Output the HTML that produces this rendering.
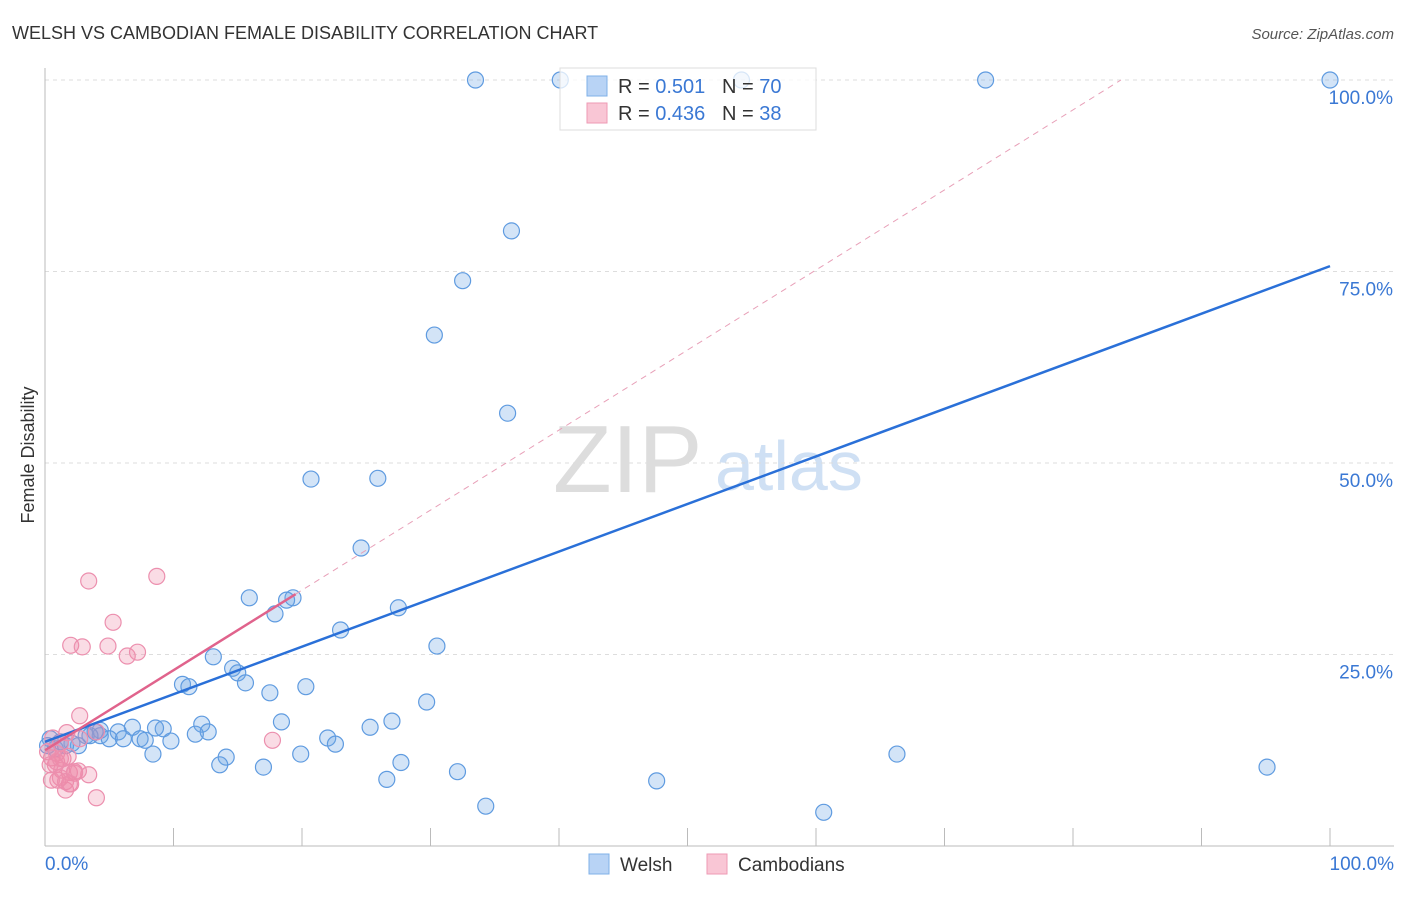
<!DOCTYPE html>
<html><head><meta charset="utf-8"><style>
body{margin:0;background:#fff;font-family:"Liberation Sans",sans-serif;}
svg text{font-family:"Liberation Sans",sans-serif;}
</style></head><body>
<svg id="c" width="1406" height="892">
<text x="12" y="39" font-size="18" fill="#333">WELSH VS CAMBODIAN FEMALE DISABILITY CORRELATION CHART</text>
<text x="1394" y="39" font-size="15" fill="#555" font-style="italic" text-anchor="end">Source: ZipAtlas.com</text>
<text x="34" y="455" font-size="18" fill="#333" transform="rotate(-90 34 455)" text-anchor="middle">Female Disability</text>
<text x="553" y="492" font-size="96" fill="#ddd" font-family="Liberation Serif">ZIP</text>
<text x="715" y="490" font-size="70" fill="#cfe0f4">atlas</text>
<g id="grid"></g><g id="axes"></g><g id="pts"></g><g id="lines"></g>
<g>
<rect x="560" y="68" width="256" height="62" fill="rgba(255,255,255,0.75)" stroke="#ddd"/>
<rect x="587" y="76" width="20" height="20" fill="#b8d3f5" stroke="#7fb0e8"/>
<rect x="587" y="103" width="20" height="20" fill="#f9c6d5" stroke="#ee9ab4"/>
<text x="618" y="93" font-size="20" fill="#333">R = <tspan fill="#3a78d4">0.501</tspan>&#160;&#160;&#160;N = <tspan fill="#3a78d4">70</tspan></text>
<text x="618" y="120" font-size="20" fill="#333">R = <tspan fill="#3a78d4">0.436</tspan>&#160;&#160;&#160;N = <tspan fill="#3a78d4"> 38</tspan></text>
</g>
<g>
<rect x="589" y="854" width="20" height="20" fill="#b8d3f5" stroke="#7fb0e8"/>
<text x="620" y="871" font-size="19" fill="#333">Welsh</text>
<rect x="707" y="854" width="20" height="20" fill="#f9c6d5" stroke="#ee9ab4"/>
<text x="738" y="871" font-size="19" fill="#333">Cambodians</text>
</g>
</svg>
<script>
const welshX=[33.5,40.1,54.2,73.2,100,36.3,32.5,30.3,36,20.7,25.9,24.6,15.9,19.3,18.8,17.9,27.5,23,30.5,13.1,14.6,15,15.6,10.7,11.2,17.5,20.3,29.7,18.4,12.2,12.7,9.2,8.6,6.8,5.7,3.9,4.3,3.2,5,6.1,7.4,7.8,9.8,11.7,22,22.6,25.3,27,8.4,14.1,13.6,19.9,66.3,17.0,27.7,26.6,32.1,47.6,34.3,60.6,95.1,2.6,2.1,1.2,0.4,0.2,0.8,1.6,4.3,3.5];
const welshY=[100,100,100,100,100,80.3,73.8,66.7,56.5,47.9,48.0,38.9,32.4,32.4,32.1,30.3,31.1,28.2,26.1,24.7,23.2,22.6,21.3,21.1,20.8,20.0,20.8,18.8,16.2,15.9,14.9,15.3,15.4,15.5,14.9,14.9,14.4,14.4,14.0,14.0,14.0,13.8,13.7,14.6,14.1,13.3,15.5,16.3,12.0,11.6,10.6,12.0,12.0,10.3,10.9,8.7,9.7,8.5,5.2,4.4,10.3,13.1,13.4,13.6,14.0,13.1,12.7,13.1,15.1,14.4];
const cambX=[3.4,8.7,5.3,2.0,2.9,4.9,6.4,7.2,2.7,1.7,4.0,0.2,0.5,0.8,1.3,1.9,2.3,1.0,1.6,1.9,4.0,17.7,2.7,0.6,1.2,0.9,1.4,0.4,0.9,1.2,1.8,2.6,3.4,2.3,1.2,1.6,2.0,0.5];
const cambY=[34.6,35.2,29.2,26.2,26.0,26.1,24.8,25.3,17.0,14.8,14.9,12.3,11.5,10.6,9.9,9.6,9.7,8.6,7.3,8.1,6.3,13.8,14.0,14.1,13.4,12.1,11.4,10.6,11.0,11.4,11.7,9.8,9.3,9.5,8.9,8.4,8.1,8.6];
const regIntercept=[13.6,12.5];
const regSlope=[0.621,1.045];
const xTicks=[0,10,20,30,40,50,60,70,80,90,100];
const yTicks=[25,50,75,100];
const yTickLabels=["25.0%","50.0%","75.0%","100.0%"];
const NS="http://www.w3.org/2000/svg";
const X=v=>45+v*12.85, Y=v=>846-v*7.66;
function mk(p,t,a){const e=document.createElementNS(NS,t);for(const k in a)e.setAttribute(k,a[k]);p.appendChild(e);return e;}
const grid=document.getElementById('grid'),axes=document.getElementById('axes'),pts=document.getElementById('pts'),lines=document.getElementById('lines');
yTicks.forEach((t,i)=>{
 const l=mk(grid,'line',{x1:45,x2:1394,y1:Y(t),y2:Y(t),stroke:'#ddd','stroke-dasharray':'4,4'});
 
 
 const tx=mk(grid,'text',{x:1393,y:Y(t)+24,'font-size':19,fill:'#3a78d4','text-anchor':'end'});
 tx.textContent=yTickLabels[i];
 
 
});
const ax=mk(axes,'line',{x1:45,x2:45,y1:68,y2:846,stroke:'#bbb'});


const bx=mk(axes,'line',{x1:45,x2:1394,y1:846,y2:846,stroke:'#bbb'});


xTicks.forEach(t=>{
 const l=mk(axes,'line',{x1:X(t),x2:X(t),y1:828,y2:846,stroke:'#bbb'});
 
 
});
const xl0=mk(axes,'text',{x:45,y:870,'font-size':19,fill:'#3a78d4'});xl0.textContent='0.0%';


const xl1=mk(axes,'text',{x:1394,y:870,'font-size':19,fill:'#3a78d4','text-anchor':'end'});xl1.textContent='100.0%';


welshX.forEach((x,i)=>{
 const c=mk(pts,'circle',{cx:X(x),cy:Y(welshY[i]),r:8,fill:'rgba(110,165,230,0.3)',stroke:'#5f9be0','stroke-width':1.2});
 
 
});
cambX.forEach((x,i)=>{
 const c=mk(pts,'circle',{cx:X(x),cy:Y(cambY[i]),r:8,fill:'rgba(240,140,170,0.3)',stroke:'#ec8fae','stroke-width':1.2});
 
 
});
const b=mk(lines,'line',{x1:X(0),y1:Y(regIntercept[0]),x2:X(100),y2:Y(regIntercept[0]+regSlope[0]*100),stroke:'#2a70d8','stroke-width':2.5});


const xEnd=(100-regIntercept[1])/regSlope[1];
const pd=mk(lines,'line',{x1:X(19.5),y1:Y(regIntercept[1]+regSlope[1]*19.5),x2:X(xEnd),y2:Y(100),stroke:'#e8a0b8','stroke-width':1,'stroke-dasharray':'6,5'});


const p=mk(lines,'line',{x1:X(0),y1:Y(regIntercept[1]),x2:X(19.5),y2:Y(regIntercept[1]+regSlope[1]*19.5),stroke:'#e0638c','stroke-width':2.5});


</script>
</body></html>
